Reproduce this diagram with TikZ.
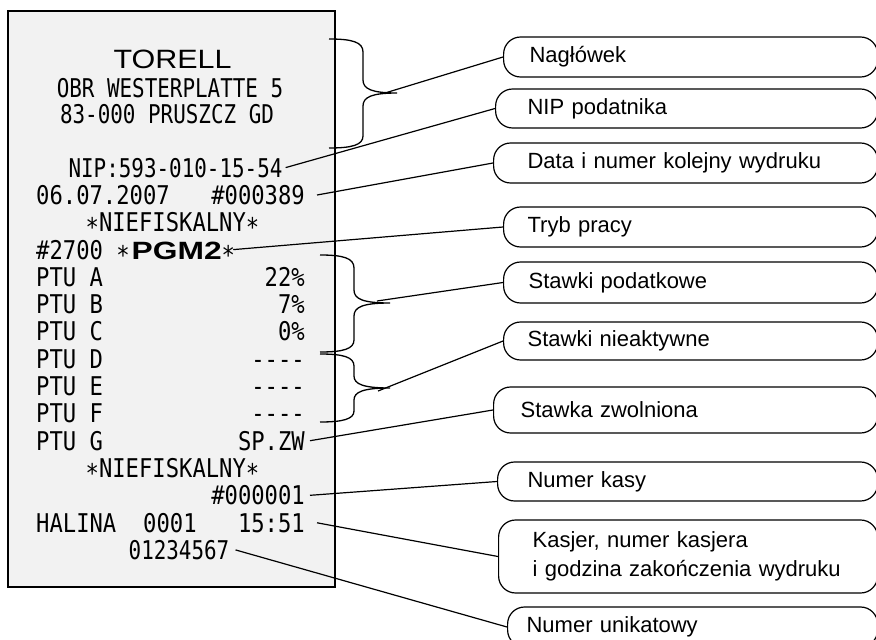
\documentclass[tikz,border=0pt]{standalone}
\usepackage{fontspec}
\setmainfont{Liberation Sans}
\newfontfamily\rfont[FakeStretch=0.86]{DejaVu Sans Mono}
\newfontfamily\rfontn[FakeStretch=0.81]{DejaVu Sans Mono}
\newfontfamily\widesans[FakeStretch=1.15]{Liberation Sans}
\newfontfamily\pgmfont[FakeStretch=1.27]{Liberation Sans}
\newcommand\rast{\raisebox{-5pt}[12pt][0pt]{*}}
\definecolor{paper}{HTML}{F2F2F2}
\tikzset{
  rtext/.style={inner sep=0pt, font=\rfont\fontsize{25.8}{27}\selectfont},
  rtextn/.style={inner sep=0pt, font=\rfontn\fontsize{25.8}{27}\selectfont},
  callout/.style={draw, line width=1.2pt, rounded corners=17pt, anchor=west,
    align=left, inner ysep=0pt, font=\fontsize{22}{29}\selectfont},
  conn/.style={line width=1.2pt},
  bracestyle/.style={line width=1.3pt},
}
\begin{document}
\begin{tikzpicture}[x=1pt,y=-1pt]
\useasboundingbox (0,0) rectangle (876,640);
\clip (0,0) rectangle (876,640);
\fill[white] (0,0) rectangle (876,640);
% receipt
\draw[line width=1.2pt, fill=paper] (8,11) rectangle (335,587);
\node[rtext, anchor=base, font=\widesans\fontsize{26.5}{28}\selectfont] (torell) at (172.5,68) {TORELL};
\node[rtextn, anchor=base] (obr) at (170,97) {OBR WESTERPLATTE 5};
\node[rtextn, anchor=base] (city) at (167,123) {83-000 PRUSZCZ GD};
\node[rtextn, anchor=base] (nip) at (175.5,177) {NIP:593-010-15-54};
\node[rtext, anchor=base west] (date) at (36,204.4) {06.07.2007};
\node[rtext, anchor=base east] (rcpt) at (305,204.4) {\#000389};
\node[rtext, anchor=base] (nf1) at (172.5,231.7) {\rast NIEFISKALNY\rast};
\node[rtext, anchor=base west] (mode) at (36,259) {\#2700 \rast\hspace{2pt}{\pgmfont\bfseries\fontsize{25}{27}\selectfont PGM2}\rast};
\foreach \l/\v/\y [count=\i] in {A/{22\%}/286.3, B/{7\%}/313.6, C/{0\%}/340.9, D/{-{}-{}-{}-}/368.2, E/{-{}-{}-{}-}/395.5, F/{-{}-{}-{}-}/422.8, G/{SP.ZW}/450.1}{
  \node[rtext, anchor=base west] (p\i) at (36,\y) {PTU \l};
  \node[rtext, anchor=base east] (v\i) at (305,\y) {\v};
}
\node[rtext, anchor=base] (nf2) at (172.5,477.4) {\rast NIEFISKALNY\rast};
\node[rtext, anchor=base east] (till) at (305,504.7) {\#000001};
\node[rtext, anchor=base west] (cashier) at (36,532) {HALINA};
\node[rtext, anchor=base west] (cno) at (143,532) {0001};
\node[rtext, anchor=base east] (time) at (305,532) {15:51};
\node[rtextn, anchor=base] (uid) at (179,559.3) {01234567};
% braces
\draw[bracestyle] (329,39) .. controls (352,39) and (363,42) .. (363,52) -- (363,80)
  .. controls (363,89) and (372,93) .. (397,93) .. controls (372,93) and (363,97) .. (363,106)
  -- (363,136) .. controls (363,145) and (352,148) .. (329,148);
\draw[bracestyle] (320,255) .. controls (343,255) and (354,258) .. (354,268) -- (354,290)
  .. controls (354,299) and (363,303) .. (390,303) .. controls (363,303) and (354,307) .. (354,316)
  -- (354,340) .. controls (354,349) and (343,352) .. (320,352);
\draw[bracestyle] (320,354) .. controls (343,354) and (354,357) .. (354,366) -- (354,376)
  .. controls (354,384) and (363,388) .. (390,388) .. controls (363,388) and (354,392) .. (354,400)
  -- (354,411) .. controls (354,419) and (343,422) .. (320,422);
\coordinate (b1) at (385,93);
\coordinate (b2) at (377,301);
\coordinate (b3) at (378,391);
% callouts
\node[callout, minimum height=40pt, inner xsep=26pt, text width=322pt] (c1) at (503,57) {Nagłówek};
\node[callout, minimum height=39pt, inner xsep=32pt, text width=318pt] (c2) at (495,108.5) {NIP podatnika};
\node[callout, minimum height=40pt, inner xsep=34pt, text width=316pt] (c3) at (493,163) {Data i numer kolejny wydruku};
\node[callout, minimum height=40pt, inner xsep=24pt, text width=326pt] (c4) at (503,227) {Tryb pracy};
\node[callout, minimum height=41pt, inner xsep=25pt, text width=324pt] (c5) at (503,282.5) {Stawki podatkowe};
\node[callout, minimum height=38pt, inner xsep=24pt, text width=326pt] (c6) at (503,341) {Stawki nieaktywne};
\node[callout, minimum height=46pt, inner xsep=27pt, text width=330pt] (c7) at (493,410) {Stawka zwolniona};
\node[callout, minimum height=39pt, inner xsep=30pt, text width=320pt] (c8) at (497,481.5) {Numer kasy};
\node[callout, minimum height=73pt, inner xsep=34pt, text width=311pt] (c9) at (498,556.5) {Kasjer, numer kasjera\\i godzina zakończenia wydruku};
\node[callout, minimum height=40pt, inner xsep=19pt, text width=332pt] (c10) at (507,627) {Numer unikatowy};
% connectors
\draw[conn] (b1) -- (c1.west);
\draw[conn] ([xshift=3pt]nip.east) -- (c2.west);
\draw[conn] ([xshift=12pt]rcpt.east) -- (c3.west);
\draw[conn] ([xshift=-2pt]mode.east) -- (c4.west);
\draw[conn] (b2) -- (c5.west);
\draw[conn] (b3) -- (c6.west);
\draw[conn] ([xshift=5pt]v7.east) -- (c7.west);
\draw[conn] ([xshift=5pt]till.east) -- (c8.west);
\draw[conn] ([xshift=12pt]time.east) -- (c9.west);
\draw[conn] ([xshift=6pt]uid.east) -- (c10.west);
\end{tikzpicture}
\end{document}
